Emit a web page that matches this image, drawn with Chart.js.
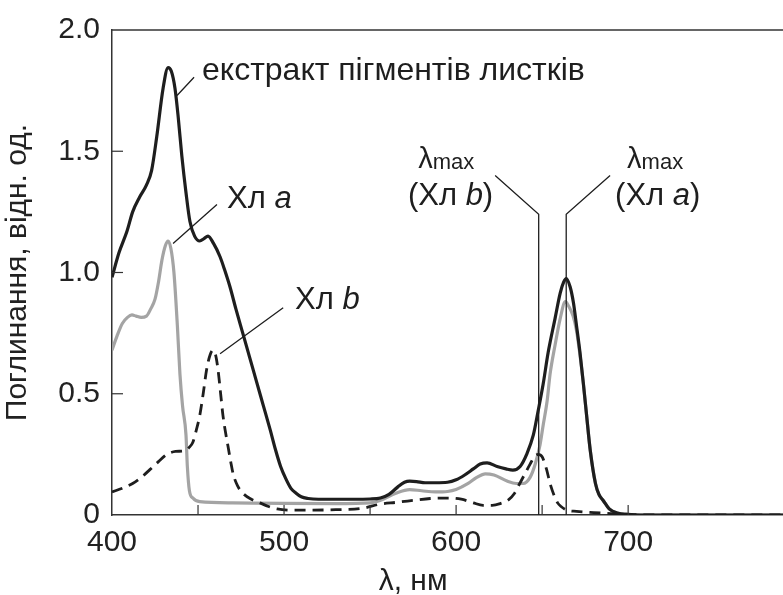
<!DOCTYPE html>
<html>
<head>
<meta charset="utf-8">
<script src="https://cdn.jsdelivr.net/npm/chart.js@4"></script>
<style>
  html, body { margin: 0; padding: 0; background: #fff; overflow: hidden; }
  #wrap { width: 783px; height: 595px; overflow: hidden; }
</style>
</head>
<body>
<div id="wrap"><canvas id="myChart" width="793" height="595"></canvas></div>
<script>
// екстракт пігментів листків
var wl_extract = [400, 404, 408.7, 412, 416, 420, 423, 426, 429.7, 432.6, 434.5, 436.6, 438.5, 440.6, 443, 445.3, 448, 451, 453.5, 455.8, 459, 462.8, 465.5, 468.6, 472, 476, 480, 484, 488, 492, 495, 498, 501, 504, 507, 510, 514, 520, 530, 540, 550, 556, 561, 566, 570, 573, 577, 582, 588, 595, 600, 605, 610, 614, 618, 623.8, 629, 633, 637.2, 641, 644.9, 647.7, 650.6, 653.5, 657.5, 660.5, 662.5, 664, 666.3, 668.2, 670, 672, 674, 676, 678, 681, 683, 685.5, 689, 693.6, 700, 710, 790]
var abs_extract = [0.98, 1.08, 1.17, 1.25, 1.31, 1.36, 1.42, 1.56, 1.76, 1.845, 1.83, 1.76, 1.64, 1.48, 1.33, 1.21, 1.15, 1.13, 1.14, 1.15, 1.12, 1.065, 1.01, 0.94, 0.85, 0.75, 0.65, 0.55, 0.45, 0.35, 0.27, 0.2, 0.15, 0.11, 0.09, 0.075, 0.068, 0.065, 0.065, 0.065, 0.066, 0.07, 0.085, 0.115, 0.135, 0.14, 0.138, 0.133, 0.133, 0.135, 0.145, 0.165, 0.19, 0.21, 0.215, 0.2, 0.19, 0.185, 0.2, 0.25, 0.33, 0.43, 0.54, 0.67, 0.81, 0.915, 0.96, 0.975, 0.94, 0.875, 0.78, 0.67, 0.54, 0.4, 0.265, 0.13, 0.085, 0.06, 0.025, 0.008, 0.002, 0, 0]

// Хл a
var wl_chla = [400, 403, 406, 409, 411.6, 414, 417, 420, 422.5, 425, 427, 429, 431, 432.6, 434.2, 436, 438, 439.5, 441, 443, 443.8, 445, 447, 451, 470, 500, 530, 550, 555.8, 565, 573, 580, 588, 595, 600, 607, 612, 617, 622, 629.6, 635, 639, 643, 646, 648.8, 650.6, 652.9, 654.6, 657.5, 660.5, 663.5, 665.5, 668, 670, 672, 674, 676, 678, 681, 683, 685.5, 689, 693.6, 700, 710, 790]
var abs_chla = [0.68, 0.74, 0.79, 0.815, 0.825, 0.82, 0.815, 0.82, 0.85, 0.89, 0.96, 1.05, 1.11, 1.13, 1.1, 1.0, 0.78, 0.58, 0.45, 0.33, 0.2, 0.1, 0.07, 0.055, 0.05, 0.048, 0.047, 0.05, 0.06, 0.09, 0.105, 0.1, 0.095, 0.097, 0.105, 0.13, 0.155, 0.17, 0.165, 0.14, 0.13, 0.13, 0.155, 0.21, 0.29, 0.37, 0.47, 0.58, 0.7, 0.81, 0.88, 0.86, 0.82, 0.76, 0.66, 0.54, 0.4, 0.265, 0.13, 0.085, 0.06, 0.025, 0.008, 0.002, 0, 0]

// Хл b
var wl_chlb = [400, 406, 412, 417, 422, 427, 432, 437, 442.4, 445, 447, 449, 451, 453, 455, 457, 458.7, 460.2, 461.6, 463, 464.5, 466, 467.5, 469, 470.4, 473, 476, 481, 486, 491, 496, 505, 515, 530, 545, 556, 565, 575, 585, 595, 603, 610, 615.7, 621, 626, 630, 634, 637, 640, 643, 645.5, 647.7, 650, 652.5, 654.6, 657, 659, 661, 664.5, 670, 680, 690, 700, 710, 790]
var abs_chlb = [0.095, 0.11, 0.13, 0.155, 0.187, 0.22, 0.25, 0.262, 0.265, 0.28, 0.3, 0.35, 0.41, 0.5, 0.6, 0.66, 0.68, 0.66, 0.6, 0.51, 0.41, 0.34, 0.28, 0.22, 0.17, 0.12, 0.09, 0.065, 0.05, 0.035, 0.025, 0.02, 0.02, 0.022, 0.027, 0.045, 0.052, 0.06, 0.068, 0.07, 0.065, 0.05, 0.04, 0.04, 0.048, 0.06, 0.09, 0.13, 0.17, 0.21, 0.24, 0.25, 0.24, 0.19, 0.13, 0.08, 0.05, 0.035, 0.02, 0.015, 0.01, 0.006, 0.003, 0, 0]

var x_min = 400, x_max = 790
var y_min = 0, y_max = 2.0
var lambda_b = 648, lambda_a = 664

function pts(xs, ys) {
	var out = []
	for (var i = 0; i < xs.length; i++) out.push({x: xs[i], y: ys[i]})
	return out
}

var FONT = "'Liberation Sans', Arial, sans-serif"
var INK = '#1e1e1e'

// text pieces: [text, italic]
function drawRich(ctx, parts, x, y, size) {
	var cx = x
	parts.forEach(function(p){
		ctx.font = (p[1] ? 'italic ' : '') + size + 'px ' + FONT
		ctx.fillText(p[0], cx, y)
		cx += ctx.measureText(p[0]).width
	})
}

function drawLambdaMax(ctx, x, y) {
	ctx.font = '29px ' + FONT
	ctx.fillText('λ', x, y)
	var w = ctx.measureText('λ').width
	ctx.font = '22px ' + FONT
	ctx.fillText('max', x + w, y + 1)
}

var decor = {
	id: 'decor',
	afterDatasetsDraw: function(chart) {
		var ctx = chart.ctx
		var xs = chart.scales.x, ys = chart.scales.y
		var a = chart.chartArea
		var X = function(v){ return xs.getPixelForValue(v) }
		var Y = function(v){ return ys.getPixelForValue(v) }
		ctx.save()
		ctx.strokeStyle = '#333'
		ctx.lineWidth = 1.5
		// top frame
		ctx.beginPath()
		ctx.moveTo(a.left, a.top); ctx.lineTo(a.right, a.top)
		ctx.stroke()
		// inward ticks
		ctx.lineWidth = 1.2
		xs.ticks.forEach(function(t){
			if (t.value % 50 !== 0 || t.value === x_min) return
			ctx.beginPath(); ctx.moveTo(X(t.value), a.bottom); ctx.lineTo(X(t.value), a.bottom - 10); ctx.stroke()
		})
		ys.ticks.forEach(function(t){
			if (t.value === y_min || t.value === y_max) return
			ctx.beginPath(); ctx.moveTo(a.left, Y(t.value)); ctx.lineTo(a.left + 11, Y(t.value)); ctx.stroke()
		})

		// lambda max lines
		ctx.strokeStyle = INK
		ctx.lineWidth = 1.3
		ctx.beginPath()
		ctx.moveTo(X(lambda_b), a.bottom); ctx.lineTo(X(lambda_b), Y(1.24)); ctx.lineTo(X(622.7), Y(1.40))
		ctx.moveTo(X(lambda_a), a.bottom); ctx.lineTo(X(lambda_a), Y(1.24)); ctx.lineTo(X(689.5), Y(1.40))
		// leaders
		ctx.moveTo(X(437.8), Y(1.73)); ctx.lineTo(X(447.7), Y(1.805))
		ctx.moveTo(X(435.5), Y(1.12)); ctx.lineTo(X(461), Y(1.28))
		ctx.moveTo(X(462.8), Y(0.665)); ctx.lineTo(X(499.5), Y(0.855))
		ctx.stroke()

		// labels
		ctx.fillStyle = INK
		ctx.textAlign = 'left'
		ctx.textBaseline = 'alphabetic'
		drawRich(ctx, [['екстракт пігментів листків', false]], X(452.3), Y(1.795), 32)
		drawRich(ctx, [['Хл ', false], ['a', true]], X(466.9), Y(1.265), 31)
		drawRich(ctx, [['Хл ', false], ['b', true]], X(506.4), Y(0.85), 31)
		drawLambdaMax(ctx, X(578), Y(1.43))
		drawRich(ctx, [['(Хл ', false], ['b', true], [')', false]], X(572), Y(1.28), 31)
		drawLambdaMax(ctx, X(699.4), Y(1.43))
		drawRich(ctx, [['(Хл ', false], ['a', true], [')', false]], X(692.4), Y(1.28), 31)

		// x axis title
		ctx.textAlign = 'center'
		ctx.font = '30px ' + FONT
		ctx.fillText('λ, нм', X(575), 590)
		ctx.restore()
	}
}

var chart = new Chart(document.getElementById('myChart').getContext('2d'), {
	type: 'line',
	data: {
		datasets: [
			{
				label: 'екстракт пігментів листків',
				data: pts(wl_extract, abs_extract),
				borderColor: INK,
				borderWidth: 3.2,
				pointRadius: 0,
				cubicInterpolationMode: 'monotone'
			},
			{
				label: 'Хл b',
				data: pts(wl_chlb, abs_chlb),
				borderColor: INK,
				borderWidth: 2.8,
				borderDash: [11, 7],
				pointRadius: 0,
				cubicInterpolationMode: 'monotone'
			},
			{
				label: 'Хл a',
				data: pts(wl_chla, abs_chla),
				borderColor: '#a4a4a4',
				borderWidth: 3.2,
				pointRadius: 0,
				cubicInterpolationMode: 'monotone'
			}
		]
	},
	plugins: [decor],
	options: {
		responsive: false,
		animation: false,
		layout: { padding: { top: 24, right: 0, left: 0, bottom: 0 } },
		plugins: { legend: { display: false }, tooltip: { enabled: false } },
		scales: {
			x: {
				type: 'linear',
				min: x_min,
				max: x_max,
				afterFit: function(s){ s.height = 80 },
				grid: { display: false, drawTicks: false },
				border: { display: true, color: '#333', width: 1.5 },
				ticks: {
					stepSize: 50,
					autoSkip: false,
					maxRotation: 0,
					padding: 10,
					color: '#222',
					font: { family: FONT, size: 30 },
					callback: function(v){ return (v % 100 === 0 && v <= 700) ? String(v) : '' }
				}
			},
			y: {
				min: y_min,
				max: y_max,
				afterFit: function(s){ s.width = 112 },
				grid: { display: false, drawTicks: false },
				border: { display: true, color: '#333', width: 1.5 },
				title: {
					display: true,
					text: 'Поглинання, відн. од.',
					color: '#222',
					font: { family: FONT, size: 30 },
					padding: { top: 0, bottom: 0 }
				},
				ticks: {
					stepSize: 0.5,
					padding: 12,
					color: '#222',
					font: { family: FONT, size: 30 },
					callback: function(v){ return v === 0 ? '0' : v.toFixed(1) }
				}
			}
		}
	}
})
</script>
</body>
</html>
